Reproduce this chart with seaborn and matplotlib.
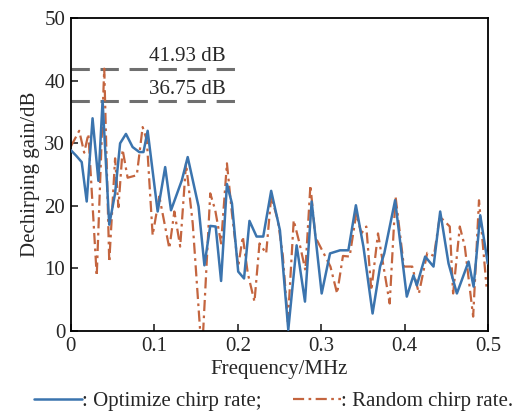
import numpy as np
import pandas as pd
import matplotlib
matplotlib.use("Agg")
import matplotlib.pyplot as plt
import seaborn as sns

# Datos
freq_opt = [0.000, 0.0065, 0.013, 0.019, 0.026, 0.033, 0.038, 0.046, 0.053, 0.059,
            0.066, 0.074, 0.082, 0.087, 0.092, 0.104, 0.113, 0.120, 0.133, 0.140,
            0.153, 0.160, 0.167, 0.1735, 0.180, 0.187, 0.193, 0.2005, 0.2075, 0.214,
            0.2225, 0.2305, 0.240, 0.2505, 0.2605, 0.2705, 0.2805, 0.2885, 0.3005, 0.3105,
            0.3225, 0.3325, 0.3415, 0.3505, 0.3615, 0.3705, 0.3755, 0.3885, 0.4025, 0.4105,
            0.4145, 0.4245, 0.4345, 0.4425, 0.4525, 0.4625, 0.4765, 0.4825, 0.4905, 0.4995]
gain_opt = [28.9, 28.0, 27.0, 20.7, 34.0, 24.0, 36.75, 17.0, 22.0, 30.0,
            31.5, 29.4, 28.6, 28.6, 32.0, 19.1, 26.2, 19.3, 24.1, 27.8,
            19.9, 10.5, 16.8, 16.7, 8.0, 23.5, 20.4, 9.5, 8.4, 17.6,
            15.1, 15.1, 22.4, 16.1, 0.2, 13.7, 4.7, 20.7, 6.0, 12.4,
            12.9, 12.9, 20.1, 13.5, 2.8, 10.3, 12.4, 20.9, 5.5, 8.9,
            7.3, 11.9, 10.3, 19.1, 10.8, 6.0, 11.1, 7.1, 18.5, 10.8]

freq_rnd = [0.000, 0.010, 0.016, 0.021, 0.031, 0.040, 0.046, 0.053, 0.057, 0.062,
            0.068, 0.079, 0.086, 0.091, 0.098, 0.106, 0.118, 0.124, 0.131, 0.138,
            0.146, 0.157, 0.167, 0.173, 0.180, 0.187, 0.193, 0.2005, 0.206, 0.212,
            0.220, 0.226, 0.234, 0.240, 0.248, 0.254, 0.260, 0.267, 0.274, 0.281,
            0.287, 0.293, 0.303, 0.311, 0.319, 0.326, 0.334, 0.342, 0.348, 0.354,
            0.360, 0.368, 0.382, 0.389, 0.399, 0.409, 0.417, 0.427, 0.435, 0.442,
            0.454, 0.458, 0.466, 0.472, 0.482, 0.489, 0.498]
gain_rnd = [29.5, 32.0, 28.5, 31.5, 8.8, 41.93, 11.0, 27.6, 19.8, 29.0,
            24.5, 24.9, 32.6, 30.5, 15.3, 21.5, 13.2, 19.1, 13.5, 26.8,
            17.2, -4.0, 22.0, 19.3, 14.0, 26.8, 18.8, 10.3, 15.1, 9.2,
            4.7, 14.0, 12.4, 21.5, 17.7, 12.0, 1.5, 17.7, 14.0, 9.7,
            23.3, 15.0, 12.4, 10.3, 6.0, 12.0, 11.9, 18.8, 15.6, 16.7,
            6.5, 15.6, 4.4, 21.5, 10.3, 10.3, 6.0, 12.5, 12.0, 18.3,
            16.7, 6.0, 16.7, 13.5, 2.3, 20.9, 7.1]

# Picos marcados con líneas discontinuas
picos = [41.93, 36.75]
etiquetas_picos = ["41.93 dB", "36.75 dB"]
fin_linea_pico = 0.197

df_opt = pd.DataFrame({"Frecuencia": freq_opt, "Ganancia": gain_opt})
df_rnd = pd.DataFrame({"Frecuencia": freq_rnd, "Ganancia": gain_rnd})

sns.set_style("ticks")
plt.rcParams["font.family"] = ["Liberation Serif", "DejaVu Serif"]

fig = plt.figure(figsize=(5.21, 4.13), dpi=100)
ax = fig.add_axes([0.136, 0.1985, 0.801, 0.7575])

azul = "#3b74ae"
rojo = "#c4653f"

ax.hlines(picos, 0, fin_linea_pico, colors="#6f6f6f", linewidth=2.2,
          linestyles=(0, (6, 3.5)), zorder=1)
for v, txt in zip(picos, etiquetas_picos):
    ax.text(0.14, v + 0.4, txt, ha="center", va="bottom", fontsize=15)

sns.lineplot(data=df_rnd, x="Frecuencia", y="Ganancia", ax=ax, color=rojo,
             linewidth=1.6, linestyle=(0, (5, 2, 1.2, 2)), sort=False,
             label=": Random chirp rate.", zorder=2)
sns.lineplot(data=df_opt, x="Frecuencia", y="Ganancia", ax=ax, color=azul,
             linewidth=1.8, sort=False, label=": Optimize chirp rate;", zorder=3)

ax.set_xlim(0, 0.5)
ax.set_ylim(0, 50)
ax.set_xticks([0, 0.1, 0.2, 0.3, 0.4, 0.5])
ax.set_xticklabels(["0", "0.1", "0.2", "0.3", "0.4", "0.5"])
ax.set_yticks(range(0, 51, 10))
ax.tick_params(direction="in", length=5, width=1.2, labelsize=15, pad=4)
for s in ax.spines.values():
    s.set_linewidth(1.3)
    s.set_color("black")

ax.set_xlabel("Frequency/MHz", fontsize=15, labelpad=3)
ax.set_ylabel("Dechirping gain/dB", fontsize=15, labelpad=3)

handles, labels = ax.get_legend_handles_labels()
ax.get_legend().remove()
fig.legend(handles[::-1], labels[::-1], loc="center", bbox_to_anchor=(0.525, 0.028),
           ncol=2, frameon=False, fontsize=15, handlelength=2.3, handletextpad=0.0,
           columnspacing=1.5, borderpad=0)

fig.savefig("out.png", dpi=100)
